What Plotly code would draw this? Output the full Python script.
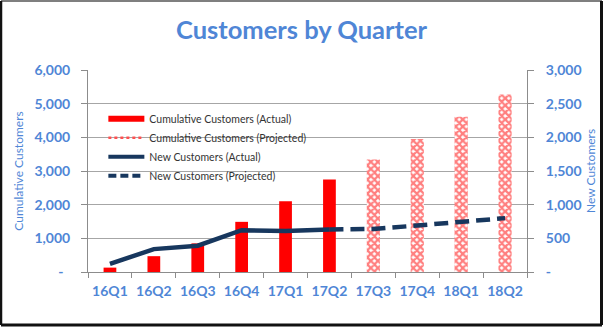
import plotly.graph_objects as go

# ---- data ----
quarters = ["16Q1", "16Q2", "16Q3", "16Q4", "17Q1", "17Q2", "17Q3", "17Q4", "18Q1", "18Q2"]
cumulative_actual = [130, 470, 850, 1490, 2100, 2750, None, None, None, None]
cumulative_projected = [None, None, None, None, None, None, 3340, 3950, 4610, 5270]
new_actual = [120, 340, 390, 620, 610, 630, None, None, None, None]
new_projected = [None, None, None, None, None, 630, 640, 690, 740, 800]

left_ticks = [0, 1000, 2000, 3000, 4000, 5000, 6000]
right_ticks = [0, 500, 1000, 1500, 2000, 2500, 3000]


def fmt(v):
    return "-\u00a0\u00a0" if v == 0 else f"{v:,}"


# ---- styling ----
W, H = 603, 328
ML, MR, MT, MB = 88, 76, 70, 56
BLUE = "#4F86D6"
NAVY = "#17375E"
RED = "#FF0000"
GRID = "#A6A6A6"
AXIS = "#8C8C8C"
FONT = "Lato, 'Open Sans', sans-serif"

pw, ph = W - ML - MR, H - MT - MB


def px_x(p):
    return (p - ML) / pw


def px_y(p):
    return (H - MB - p) / ph


fig = go.Figure()

fig.add_trace(go.Bar(
    x=quarters, y=cumulative_actual, width=0.29,
    marker=dict(color=RED, line=dict(width=0)),
    showlegend=False, name="Cumulative Customers (Actual)",
))
fig.add_trace(go.Bar(
    x=quarters, y=cumulative_projected, width=0.3,
    marker=dict(color="white", line=dict(width=0),
                pattern=dict(shape="x", fgcolor=RED, bgcolor="white",
                             size=5, solidity=0.7)),
    showlegend=False, name="Cumulative Customers (Projected)",
))
fig.add_trace(go.Scatter(
    x=quarters, y=new_actual, yaxis="y2", mode="lines",
    line=dict(color=NAVY, width=4.5), showlegend=False,
    name="New Customers (Actual)",
))
fig.add_trace(go.Scatter(
    x=quarters, y=new_projected, yaxis="y2", mode="lines",
    line=dict(color=NAVY, width=4.5, dash="14px,7px"), showlegend=False,
    name="New Customers (Projected)",
))

# legend keys
legend_keys = [
    ("Cumulative Customers (Actual)", dict(color=RED, width=6)),
    ("Cumulative Customers (Projected)", dict(color="#FF5050", width=2.5, dash="dot")),
    ("New Customers (Actual)", dict(color=NAVY, width=4)),
    ("New Customers (Projected)", dict(color=NAVY, width=4, dash="8px,4px")),
]
for i, (label, ln) in enumerate(legend_keys):
    fig.add_trace(go.Scatter(
        x=[None], y=[None], mode="lines", line=ln, name=label,
        legendgroup=f"g{i}", showlegend=True,
    ))

fig.update_layout(
    width=W, height=H,
    margin=dict(l=ML, r=MR, t=MT, b=MB, autoexpand=False),
    paper_bgcolor="white", plot_bgcolor="white",
    barmode="overlay",
    font=dict(family=FONT, color=BLUE),
    title=dict(text="<b>Customers by Quarter</b>", x=0.5, xref="container",
               xanchor="center", y=1 - 30 / H, yanchor="middle",
               font=dict(size=25.5, color=BLUE, family=FONT)),
    xaxis=dict(
        type="category", categoryorder="array", categoryarray=quarters,
        tickson="boundaries", ticks="outside", ticklen=5, tickcolor=AXIS,
        tickangle=0, ticklabelstandoff=6, automargin=False,
        showline=True, linecolor=AXIS, linewidth=1, showgrid=False,
        tickfont=dict(size=14, color=BLUE, family=FONT, weight="bold"),
    ),
    yaxis=dict(
        range=[0, 6000], tickvals=left_ticks, ticktext=[fmt(v) for v in left_ticks],
        ticks="outside", ticklen=6, tickcolor=AXIS, ticklabelstandoff=8,
        automargin=False,
        showline=True, linecolor=AXIS, linewidth=1,
        showgrid=True, gridcolor=GRID, gridwidth=1, zeroline=False,
        tickfont=dict(size=14, color=BLUE, family=FONT, weight="bold"),
        title=dict(text="Cumulative Customers", standoff=8,
                   font=dict(size=12, color=BLUE, family=FONT)),
    ),
    yaxis2=dict(
        overlaying="y", side="right", range=[0, 3000],
        tickvals=right_ticks, ticktext=[fmt(v) if v else "-" for v in right_ticks],
        ticks="outside", ticklen=6, tickcolor=AXIS, ticklabelstandoff=9,
        automargin=False,
        showline=True, linecolor=AXIS, linewidth=1,
        showgrid=False, zeroline=False,
        tickfont=dict(size=14, color=BLUE, family=FONT, weight="bold"),
    ),
    legend=dict(
        x=0.035, y=0.83, xanchor="left", yanchor="top",
        bgcolor="rgba(0,0,0,0)", borderwidth=0,
        font=dict(size=10.5, color="#333333", family=FONT),
        itemwidth=36, traceorder="normal",
    ),
)

# right-hand axis title
fig.add_annotation(
    text="New Customers", textangle=-90, showarrow=False,
    xref="paper", yref="paper", x=px_x(590), y=0.5,
    xanchor="center", yanchor="middle",
    font=dict(size=12, color=BLUE, family=FONT),
)

# outer frame around the chart
frame = [
    (1, 1, 602, 1, "#555555", 1.5),
    (1, 1, 1, 325, "#111111", 2.5),
    (601.5, 1, 601.5, 325, "#111111", 3),
    (1, 325, 602, 325, "#111111", 3),
]
for x0, y0, x1, y1, c, w in frame:
    fig.add_shape(type="line", xref="paper", yref="paper",
                  x0=px_x(x0), y0=px_y(y0), x1=px_x(x1), y1=px_y(y1),
                  line=dict(color=c, width=w), layer="above")

fig.write_html("out.html")
